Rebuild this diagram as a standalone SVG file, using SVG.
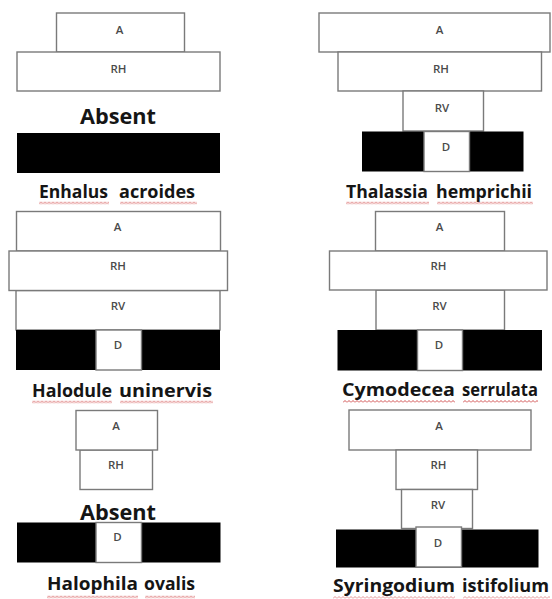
<svg xmlns="http://www.w3.org/2000/svg" width="552" height="599" viewBox="0 0 552 599">
<style>
.box{fill:#fff;stroke:#7a7a7a;stroke-width:1.4}
.soil{fill:#000}
.lbl{font-family:"Open Sans","Liberation Sans",Arial,sans-serif;font-size:11.5px;font-weight:600;fill:#4a4a4a;text-anchor:middle}
.title{font-family:"Open Sans","Liberation Sans",sans-serif;font-weight:700;font-size:18px;fill:#151515}
.absent{font-family:"Open Sans","Liberation Sans",sans-serif;font-weight:700;font-size:22px;fill:#151515;text-anchor:middle}
.sq{fill:url(#squiggle)}
</style>
<defs>
<pattern id="squiggle" patternUnits="userSpaceOnUse" width="4" height="3">
<path d="M0,2.5 L2,0.5 L4,2.5" fill="none" stroke="#cc3b3b" stroke-width="0.9"/>
</pattern>
</defs>
<rect width="552" height="599" fill="#fff"/>

<g id="enhalus">
<rect class="box" x="56.5" y="13" width="128" height="39"/>
<rect class="box" x="17" y="52" width="203" height="39"/>
<text class="lbl" x="119.5" y="33.5">A</text>
<text class="lbl" x="118.5" y="73">RH</text>
<text class="absent" x="118" y="124" textLength="76" lengthAdjust="spacingAndGlyphs">Absent</text>
<rect class="soil" x="17" y="133" width="203" height="40"/>
<text class="title"><tspan x="39" y="198" textLength="69" lengthAdjust="spacingAndGlyphs">Enhalus</tspan> <tspan x="119" y="198" textLength="76" lengthAdjust="spacingAndGlyphs">acroides</tspan></text>
<g transform="translate(39,201.5)"><rect class="sq" width="70" height="3"/></g>
<g transform="translate(120,201.5)"><rect class="sq" width="77" height="3"/></g>
</g>

<g id="thalassia">
<rect class="box" x="319" y="13" width="231" height="39"/>
<rect class="box" x="338" y="52" width="203.5" height="39"/>
<rect class="box" x="403" y="91" width="80.5" height="40"/>
<rect class="soil" x="362" y="131.5" width="161.5" height="40"/>
<rect class="box" x="424" y="131.5" width="45.5" height="40"/>
<text class="lbl" x="439.5" y="33.5">A</text>
<text class="lbl" x="441" y="73">RH</text>
<text class="lbl" x="442" y="111.5">RV</text>
<text class="lbl" x="446" y="151">D</text>
<text class="title"><tspan x="346" y="198" textLength="82" lengthAdjust="spacingAndGlyphs">Thalassia</tspan> <tspan x="436" y="198" textLength="96" lengthAdjust="spacingAndGlyphs">hemprichii</tspan></text>
<g transform="translate(346,201.5)"><rect class="sq" width="83" height="3"/></g>
<g transform="translate(437,201.5)"><rect class="sq" width="96" height="3"/></g>
</g>

<g id="halodule">
<rect class="box" x="16.5" y="211.5" width="204" height="39.5"/>
<rect class="box" x="16" y="290.5" width="204" height="39.5"/>
<rect class="box" x="9" y="251" width="218.5" height="39.5"/>
<rect class="soil" x="16" y="330" width="204" height="40"/>
<rect class="box" x="96" y="330" width="45.5" height="40"/>
<text class="lbl" x="117.5" y="231">A</text>
<text class="lbl" x="118" y="270">RH</text>
<text class="lbl" x="118" y="310">RV</text>
<text class="lbl" x="118" y="349">D</text>
<text class="title"><tspan x="32" y="396.5" textLength="80" lengthAdjust="spacingAndGlyphs">Halodule</tspan> <tspan x="119" y="396.5" textLength="93" lengthAdjust="spacingAndGlyphs">uninervis</tspan></text>
<g transform="translate(32,400.5)"><rect class="sq" width="80" height="3"/></g>
<g transform="translate(120,400.5)"><rect class="sq" width="93" height="3"/></g>
</g>

<g id="cymodocea">
<rect class="box" x="375.5" y="211.5" width="129" height="39.5"/>
<rect class="box" x="376" y="290" width="128.5" height="40"/>
<rect class="box" x="329.5" y="251" width="217.5" height="39"/>
<rect class="soil" x="337.5" y="330" width="204.5" height="40.5"/>
<rect class="box" x="417.5" y="330" width="45" height="40.5"/>
<text class="lbl" x="439.5" y="231">A</text>
<text class="lbl" x="438.5" y="270">RH</text>
<text class="lbl" x="439.5" y="309.5">RV</text>
<text class="lbl" x="439" y="348.5">D</text>
<text class="title"><tspan x="342" y="396" textLength="113" lengthAdjust="spacingAndGlyphs">Cymodecea</tspan> <tspan x="462" y="396" textLength="76" lengthAdjust="spacingAndGlyphs">serrulata</tspan></text>
<g transform="translate(343,400)"><rect class="sq" width="112" height="3"/></g>
<g transform="translate(463,400)"><rect class="sq" width="75" height="3"/></g>
</g>

<g id="halophila">
<rect class="box" x="80" y="450" width="72.5" height="39.5"/>
<rect class="box" x="76" y="410.5" width="81.5" height="39.5"/>
<text class="lbl" x="116" y="430">A</text>
<text class="lbl" x="116" y="469">RH</text>
<text class="absent" x="118" y="520" textLength="76" lengthAdjust="spacingAndGlyphs">Absent</text>
<rect class="soil" x="17" y="522.5" width="203.5" height="40"/>
<rect class="box" x="96" y="522.5" width="45.5" height="40"/>
<text class="lbl" x="117.5" y="541">D</text>
<text class="title"><tspan x="47" y="590" textLength="91" lengthAdjust="spacingAndGlyphs">Halophila</tspan> <tspan x="144" y="590" textLength="51" lengthAdjust="spacingAndGlyphs">ovalis</tspan></text>
<g transform="translate(47,595.5)"><rect class="sq" width="91" height="3"/></g>
<g transform="translate(145,595.5)"><rect class="sq" width="50" height="3"/></g>
</g>

<g id="syringodium">
<rect class="box" x="349" y="410" width="182" height="40"/>
<rect class="box" x="396" y="450" width="81.5" height="39.5"/>
<rect class="box" x="401.5" y="489.5" width="71" height="39"/>
<rect class="soil" x="336" y="529.5" width="202.5" height="38"/>
<rect class="box" x="416" y="527" width="45.5" height="40"/>
<text class="lbl" x="439" y="430">A</text>
<text class="lbl" x="438.5" y="469">RH</text>
<text class="lbl" x="438" y="508.5">RV</text>
<text class="lbl" x="438" y="547">D</text>
<text class="title"><tspan x="333" y="592" textLength="122" lengthAdjust="spacingAndGlyphs">Syringodium</tspan> <tspan x="462" y="592" textLength="87" lengthAdjust="spacingAndGlyphs">istifolium</tspan></text>
<g transform="translate(333,596)" opacity="0.6"><rect class="sq" width="122" height="3"/></g>
<g transform="translate(463,596)" opacity="0.6"><rect class="sq" width="87" height="3"/></g>
</g>

<g id="connectors"/>
</svg>
